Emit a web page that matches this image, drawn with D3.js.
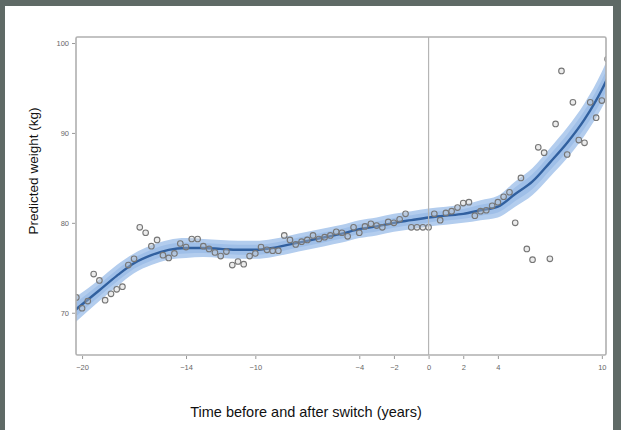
<!DOCTYPE html>
<html>
<head>
<meta charset="utf-8">
<script src="https://cdn.jsdelivr.net/npm/d3@7"></script>
<style>
  html, body { margin: 0; padding: 0; background: #ffffff; }
  svg { display: block; }
</style>
</head>
<body>
<svg id="chart" width="621" height="430"></svg>
<script>
// ---- data ----
const obsX = [-20.33,-20,-19.67,-19.33,-19,-18.67,-18.33,-18,-17.67,-17.33,-17,-16.67,-16.33,-16,-15.67,-15.33,-15,-14.67,-14.33,-14,
  -13.67,-13.33,-13,-12.67,-12.33,-12,-11.67,-11.33,-11,-10.67,-10.33,-10,-9.67,-9.33,-9,-8.67,-8.33,-8,-7.67,-7.33,
  -7,-6.67,-6.33,-6,-5.67,-5.33,-5,-4.67,-4.33,-4,-3.67,-3.33,-3,-2.67,-2.33,-2,-1.67,-1.33,-1,-0.67,
  -0.33,0,0.33,0.67,1,1.33,1.67,2,2.33,2.67,3,3.33,3.67,4,4.33,4.67,5,5.33,5.67,6,
  6.33,6.67,7,7.33,7.67,8,8.33,8.67,9,9.33,9.67,10,10.33];
const obsY = [71.7,70.5,71.3,74.3,73.6,71.4,72.1,72.6,72.9,75.3,76.0,79.5,78.9,77.4,78.1,76.4,76.1,76.6,77.7,77.3,
  78.2,78.2,77.4,77.1,76.7,76.3,76.8,75.3,75.7,75.4,76.3,76.6,77.3,77.0,76.9,76.9,78.6,78.1,77.6,77.9,
  78.1,78.6,78.2,78.4,78.6,79.0,78.9,78.5,79.5,78.9,79.6,79.9,79.7,79.5,80.1,80.0,80.4,81.0,79.5,79.5,
  79.5,79.5,81.0,80.3,81.1,81.3,81.7,82.2,82.3,80.8,81.3,81.4,81.9,82.3,82.9,83.4,80.0,85.0,77.1,75.9,
  88.4,87.8,76.0,91.0,96.9,87.6,93.4,89.2,88.9,93.4,91.7,93.6,98.2];

const fitX  = [-20.4,-19,-18,-17,-16,-15,-14,-13,-12,-11,-10,-9,-8,-7,-6,-5,-4,-3,-2,-1,0,1,2,3,4,5,6,7,8,9,10,10.3];
const fitY  = [70.3,72.5,74.1,75.5,76.4,77.0,77.2,77.2,77.1,77.0,77.0,77.2,77.6,78.0,78.4,78.8,79.3,79.6,80.0,80.3,80.6,80.8,81.0,81.4,81.8,83.2,84.6,86.7,88.9,91.5,94.8,96.0];
const fitLo = [68.9,71.3,72.9,74.4,75.3,75.9,76.1,76.2,76.1,76.0,76.0,76.2,76.6,77.0,77.4,77.8,78.3,78.6,79.0,79.3,79.6,79.8,80.0,80.3,80.6,81.8,83.1,85.1,87.2,89.7,92.8,93.9];
const fitHi = [71.7,73.7,75.3,76.6,77.5,78.1,78.3,78.2,78.1,78.0,78.0,78.2,78.6,79.0,79.4,79.8,80.3,80.6,81.0,81.3,81.6,81.8,82.0,82.5,83.0,84.6,86.1,88.3,90.6,93.3,96.8,98.1];

const xTicks = [-20,-14,-10,-4,-2,0,2,4,10];
const yTicks = [70,80,90,100];

// ---- layout ----
const svg = d3.select("#chart");
const W = 621, H = 430;
const L = 76, R = 606, T = 37, B = 355;

const x = d3.scaleLinear().domain([-20.35, 10.24]).range([L, R]);
const y = d3.scaleLinear().domain([65.3, 100.67]).range([B, T]);

svg.append("rect").attr("width", W).attr("height", H).attr("fill", "#ffffff");

// dark frame of screenshot
svg.append("rect").attr("x", 0).attr("y", 0).attr("width", W).attr("height", 6).attr("fill", "#5f6a66");
svg.append("rect").attr("x", 0).attr("y", 0).attr("width", 5).attr("height", H).attr("fill", "#5f6a66");
svg.append("rect").attr("x", 613).attr("y", 0).attr("width", 8).attr("height", H).attr("fill", "#5f6a66");

svg.append("clipPath").attr("id", "clip")
  .append("rect").attr("x", L).attr("y", T).attr("width", R - L).attr("height", B - T);

const plot = svg.append("g").attr("clip-path", "url(#clip)");

const fit = fitX.map((d, i) => ({x: d, y: fitY[i], lo: fitLo[i], hi: fitHi[i]}));

// CI band (outer)
plot.append("path").datum(fit)
  .attr("d", d3.area().x(d => x(d.x)).y0(d => y(d.lo)).y1(d => y(d.hi)).curve(d3.curveMonotoneX))
  .attr("fill", "#b3cdee");
// inner band
plot.append("path").datum(fit)
  .attr("d", d3.area().x(d => x(d.x))
     .y0(d => y(d.y - (d.y - d.lo) * 0.55)).y1(d => y(d.y + (d.hi - d.y) * 0.55)).curve(d3.curveMonotoneX))
  .attr("fill", "#9fbfe8");

// reference line at 0
svg.append("line").attr("x1", x(0)).attr("x2", x(0)).attr("y1", T).attr("y2", B)
  .attr("stroke", "#b5b5b5").attr("stroke-width", 1.2);

// fitted line
plot.append("path").datum(fit)
  .attr("d", d3.line().x(d => x(d.x)).y(d => y(d.y)).curve(d3.curveMonotoneX))
  .attr("fill", "none").attr("stroke", "#31609f").attr("stroke-width", 2.4);

// observed points
plot.selectAll("circle.obs").data(obsX.map((d, i) => ({x: d, y: obsY[i]})))
  .enter().append("circle").attr("class", "obs")
  .attr("cx", d => x(d.x)).attr("cy", d => y(d.y)).attr("r", 2.8)
  .attr("fill", "rgba(200,200,200,0.35)").attr("stroke", "#767676").attr("stroke-width", 1.1);

// frame
svg.append("rect").attr("x", L).attr("y", T).attr("width", R - L).attr("height", B - T)
  .attr("fill", "none").attr("stroke", "#b0b0b0").attr("stroke-width", 1.6).attr("rx", 1.5);

// axes
const xAxis = d3.axisBottom(x).tickValues(xTicks).tickSize(3).tickPadding(6).tickFormat(d3.format("d"));
const gx = svg.append("g").attr("transform", `translate(0,${B + 1})`).call(xAxis);
gx.select(".domain").remove();
gx.selectAll(".tick line").attr("stroke", "#999");
gx.selectAll(".tick text").attr("fill", "#666").style("font-family", "Liberation Sans, Arial, sans-serif").style("font-size", "7.5px");

const yAxis = d3.axisLeft(y).tickValues(yTicks).tickSize(3).tickPadding(3).tickFormat(d3.format("d"));
const gy = svg.append("g").attr("transform", `translate(${L - 1},0)`).call(yAxis);
gy.select(".domain").remove();
gy.selectAll(".tick line").attr("stroke", "#999");
gy.selectAll(".tick text").attr("fill", "#666").style("font-family", "Liberation Sans, Arial, sans-serif").style("font-size", "7.5px");

// titles
svg.append("text").attr("x", 306).attr("y", 417).attr("text-anchor", "middle")
  .style("font-family", "Liberation Sans, Arial, sans-serif").style("font-size", "14.5px").attr("fill", "#111")
  .text("Time before and after switch (years)");
svg.append("text").attr("transform", "translate(38,171) rotate(-90)").attr("text-anchor", "middle")
  .style("font-family", "Liberation Sans, Arial, sans-serif").style("font-size", "13.5px").attr("fill", "#111")
  .text("Predicted weight (kg)");
</script>
</body>
</html>
